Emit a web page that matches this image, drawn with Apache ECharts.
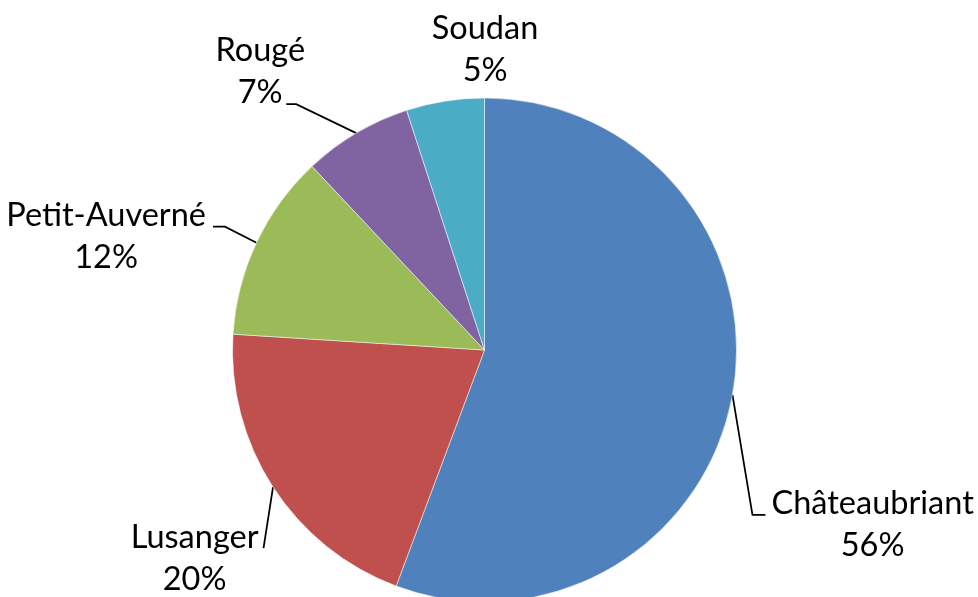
<!DOCTYPE html>
<html>
<head>
<meta charset="utf-8">
<script src="https://cdn.jsdelivr.net/npm/echarts@6/dist/echarts.min.js"></script>
<style>
  html, body { margin: 0; padding: 0; background: #fff; }
  #chart { width: 978px; height: 597px; }
</style>
</head>
<body>
<div id="chart"></div>
<script>
const communes = ['Châteaubriant', 'Lusanger', 'Petit-Auverné', 'Rougé', 'Soudan']
const parts = [55.7, 20.3, 12.0, 7.0, 5.0]
const colors = ['#4f81bd', '#c0504d', '#9bbb59', '#8064a2', '#4bacc6']

// where labels sit, relative to the slice edge point (Excel style leader lines)
const labelPlace = [
  {bend: [20, 120], end: [33, 120], text: [39, 130], align: 'left'},
  {bend: [-9.5, 61], end: [-9.5, 61], text: [-14.5, 71.5], align: 'right'},
  {bend: [-31.5, -16], end: [-43.5, -16], text: [-50.5, -6], align: 'right'},
  {bend: [-60, -29], end: [-70, -29], text: [-96, -62], align: 'center'},
  {bend: [0, 0], end: [0, 0], text: [40, -51.5], align: 'center'}
]

const chart = echarts.init(document.getElementById('chart'), null, {renderer: 'canvas'})

chart.setOption({
  animation: false,
  color: colors,
  series: [{
    type: 'pie',
    center: [484.5, 350],
    radius: 252,
    startAngle: 90,
    clockwise: true,
    percentPrecision: 0,
    avoidLabelOverlap: false,
    emphasis: {disabled: true},
    itemStyle: {
      borderColor: 'rgba(255,255,255,0.5)',
      borderWidth: 1
    },
    label: {
      show: true,
      position: 'outside',
      formatter: '{n|{b}}\n{n|{d}%}',
      rich: {
        n: {
          fontFamily: 'Lato',
          fontSize: 32.5,
          lineHeight: 42,
          color: '#000',
          align: 'center'
        }
      }
    },
    labelLine: {
      show: true,
      smooth: false,
      lineStyle: {color: '#000', width: 1.75}
    },
    labelLayout: function (params) {
      const p = labelPlace[params.dataIndex]
      const p0 = params.labelLinePoints[0]
      return {
        x: p0[0] + p.text[0],
        y: p0[1] + p.text[1],
        align: p.align,
        verticalAlign: 'middle',
        labelLinePoints: [
          p0,
          [p0[0] + p.bend[0], p0[1] + p.bend[1]],
          [p0[0] + p.end[0], p0[1] + p.end[1]]
        ]
      }
    },
    data: communes.map((name, i) => ({name: name, value: parts[i]}))
  }]
})
</script>
</body>
</html>
